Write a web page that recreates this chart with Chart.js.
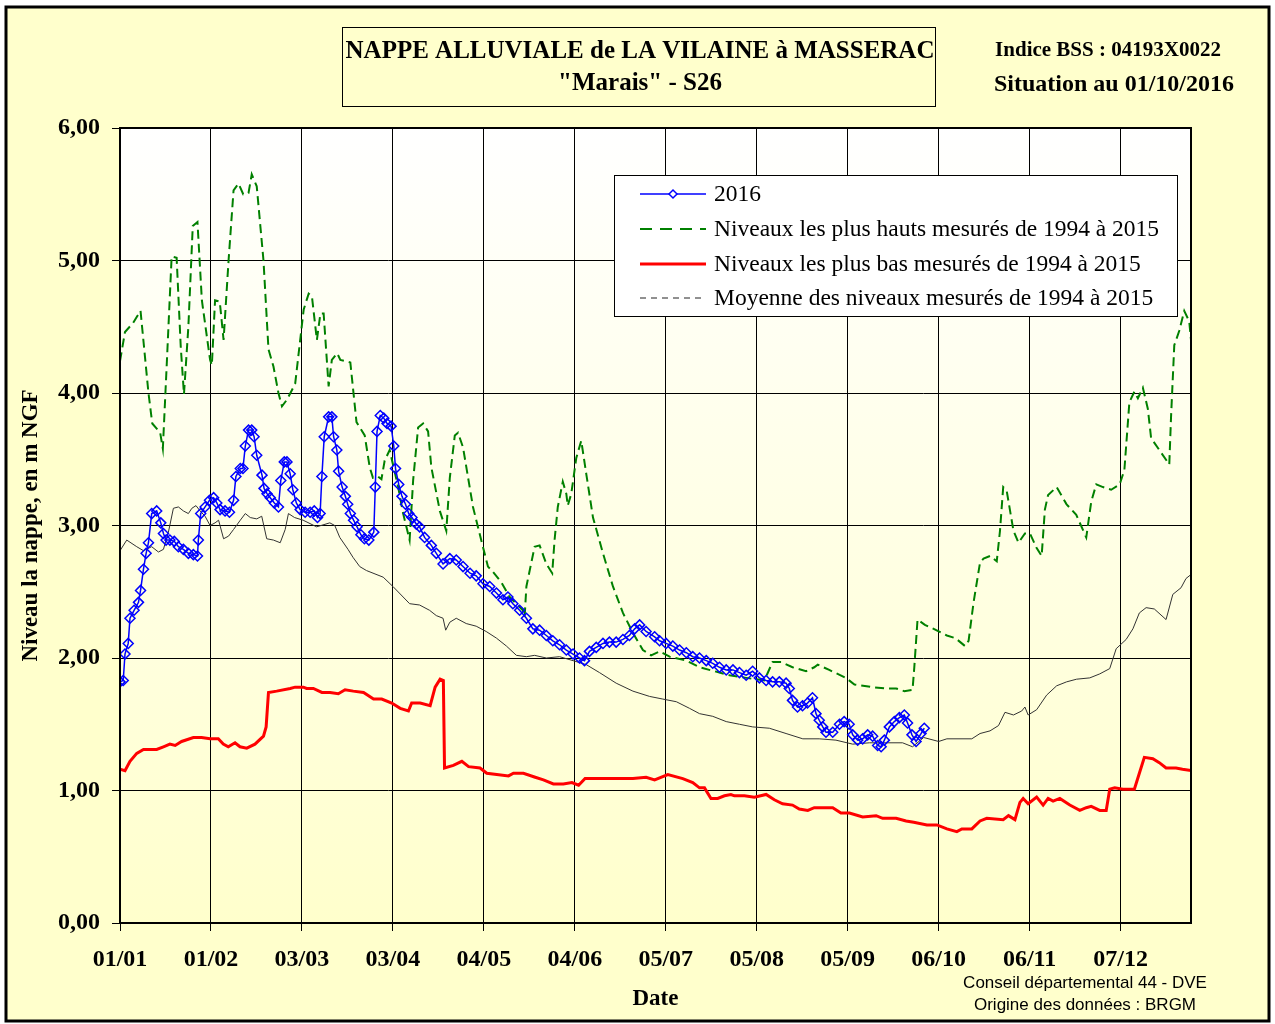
<!DOCTYPE html>
<html>
<head>
<meta charset="utf-8">
<script src="https://cdn.jsdelivr.net/npm/chart.js@4.4.1/dist/chart.umd.min.js"></script>
<style>
  html, body { margin: 0; padding: 0; background: #fff; }
  canvas { display: block; }
</style>
</head>
<body>
<canvas id="nappe-chart" width="1275" height="1024"></canvas>
<script>
// ==== Axe des dates : jour de l'annee (2016), un repere tous les 31 jours ====
var tickLabels = ['01/01', '01/02', '03/03', '03/04', '04/05', '04/06', '05/07', '05/08', '05/09', '06/10', '06/11', '07/12'];

// ==== 2016 ====
var days2016 = [0, 1.1, 1.7, 2.8, 3.4, 4.8, 6.3, 7, 8, 8.9, 9.7, 10.8, 12.5, 13.9, 14.8, 15.7, 17, 18.5, 19.9, 21.6, 23.3, 25, 26.4, 26.7, 27.5, 29, 30.5, 31.9, 33, 34.1, 35.8, 37.3, 38.7, 39.5, 41, 41.9, 42.7, 43.8, 44.9, 45.7, 46.6, 48.4, 49.1, 50.1, 51.2, 52.6, 54, 54.8, 56, 56.9, 58, 58.9, 60.1, 61.4, 63.1, 64.8, 66.2, 67.3, 68.2, 68.8, 69.6, 71.1, 72.2, 72.8, 73.9, 74.5, 75.7, 76.8, 77.6, 78.5, 79.6, 80.8, 82.1, 83.3, 84.8, 86.5, 87, 87.6, 88.7, 89.9, 91, 92.4, 93.3, 93.9, 95, 96.1, 97.3, 98.4, 99.5, 101, 102.1, 103.8, 106.1, 107.8, 110.1, 112.4, 114.6, 116.9, 119.3, 121.4, 123.7, 126, 128.3, 130.5, 132.2, 133.9, 136.2, 138.5, 140.7, 143, 145.3, 147.5, 149.8, 152.1, 154.4, 156.6, 158.3, 160, 162.3, 164.6, 166.8, 169.1, 171.4, 173.6, 175.4, 177.1, 179.3, 182.2, 183.9, 186.1, 188.4, 190.7, 193, 195.2, 197.5, 199.8, 202, 204.3, 206.6, 208.9, 211.1, 213.4, 215.6, 217.9, 220.2, 222.4, 224.7, 227, 228.1, 229.2, 230.9, 232.6, 234.3, 236, 237.2, 238.3, 239.5, 240.6, 242.9, 245.2, 246.8, 248.5, 249.7, 251.4, 253.1, 254.8, 256.5, 258.2, 259.4, 260.5, 262.2, 263.9, 265.6, 267.3, 268.4, 269.9, 271.3, 273, 274.1];
var levels2016 = [1.82, 1.83, 2.03, 2.11, 2.30, 2.36, 2.42, 2.51, 2.67, 2.79, 2.87, 3.09, 3.11, 3.02, 2.94, 2.89, 2.89, 2.88, 2.84, 2.82, 2.79, 2.78, 2.77, 2.89, 3.09, 3.14, 3.19, 3.21, 3.17, 3.12, 3.11, 3.10, 3.19, 3.37, 3.43, 3.43, 3.60, 3.72, 3.72, 3.67, 3.53, 3.38, 3.28, 3.24, 3.21, 3.17, 3.14, 3.34, 3.48, 3.48, 3.39, 3.27, 3.17, 3.12, 3.10, 3.10, 3.11, 3.06, 3.09, 3.37, 3.67, 3.82, 3.82, 3.67, 3.57, 3.41, 3.29, 3.22, 3.16, 3.09, 3.04, 2.99, 2.93, 2.90, 2.89, 2.95, 3.29, 3.71, 3.83, 3.81, 3.77, 3.75, 3.60, 3.43, 3.31, 3.22, 3.16, 3.09, 3.06, 3.01, 2.99, 2.91, 2.85, 2.79, 2.71, 2.75, 2.74, 2.69, 2.64, 2.62, 2.56, 2.54, 2.49, 2.44, 2.46, 2.41, 2.36, 2.30, 2.22, 2.21, 2.17, 2.13, 2.10, 2.06, 2.03, 2.00, 1.98, 2.05, 2.08, 2.11, 2.12, 2.12, 2.14, 2.17, 2.22, 2.25, 2.20, 2.16, 2.13, 2.11, 2.09, 2.06, 2.04, 2.01, 2.00, 1.98, 1.96, 1.93, 1.91, 1.91, 1.89, 1.87, 1.90, 1.85, 1.83, 1.82, 1.82, 1.81, 1.77, 1.68, 1.63, 1.64, 1.66, 1.70, 1.58, 1.53, 1.48, 1.44, 1.44, 1.50, 1.52, 1.50, 1.42, 1.38, 1.39, 1.42, 1.41, 1.34, 1.33, 1.38, 1.48, 1.52, 1.55, 1.57, 1.51, 1.42, 1.37, 1.43, 1.47];

// ==== Niveaux les plus hauts 1994-2015 ====
var daysHaut = [0, 1.7, 4.5, 7, 9.7, 11, 13.7, 14.6, 16, 17.6, 19.3, 20.7, 21.8, 23.3, 24.8, 26.4, 27.9, 30.7, 31.3, 32.4, 34, 35.3, 37, 38.7, 40.4, 42, 43.8, 44.9, 46.6, 48.9, 50.6, 52.3, 54, 55.2, 56.9, 59.7, 62.6, 64.3, 65.4, 67.1, 68.3, 69.4, 71.1, 72.2, 74, 75.1, 76.8, 78.5, 80.6, 83.4, 85.1, 86.2, 87.9, 89.1, 90.2, 91.9, 94.8, 96.5, 98.7, 99.9, 101.6, 103.3, 105, 106.1, 109, 111.2, 112.4, 114.1, 115.2, 116.9, 120.3, 123.1, 125.4, 127.1, 130, 132.8, 137.3, 137.9, 138.5, 141.3, 143, 145.3, 147.3, 148.1, 149.2, 150.9, 152.1, 152.6, 153.8, 155.5, 157.2, 158.9, 161.2, 164.6, 168, 171.4, 174.8, 178.2, 181, 183.9, 187.3, 193, 197.5, 202.6, 207.7, 213.4, 219.6, 222.4, 225.3, 229.2, 233.8, 236.6, 237.8, 241.7, 247.4, 250.3, 256.5, 261, 264.5, 267.3, 270.1, 270.7, 271.8, 274.3, 277.3, 281.8, 284.7, 288, 289.2, 290.9, 293.1, 294.3, 296.5, 298.8, 299.9, 301, 302.2, 304.5, 306.2, 308.4, 310.1, 312.4, 314.1, 315.2, 316.3, 319.2, 322.6, 325.9, 329.3, 331, 332.7, 335, 337.8, 340.7, 342.3, 344, 345.7, 346.9, 348.6, 350.3, 351.4, 354.2, 357.6, 358.2, 359.3, 361, 362.7, 364.4, 365];
var levelsHaut = [4.24, 4.46, 4.53, 4.62, 4.00, 3.77, 3.70, 3.58, 4.25, 5.03, 5.02, 4.35, 3.99, 4.50, 5.26, 5.29, 4.70, 4.25, 4.21, 4.70, 4.69, 4.40, 5.00, 5.53, 5.58, 5.50, 5.51, 5.65, 5.56, 5.00, 4.33, 4.20, 4.00, 3.90, 3.95, 4.07, 4.63, 4.75, 4.73, 4.40, 4.60, 4.60, 4.05, 4.25, 4.30, 4.25, 4.24, 4.23, 3.78, 3.68, 3.44, 3.36, 3.37, 3.35, 3.49, 3.57, 3.29, 3.09, 2.89, 3.34, 3.74, 3.77, 3.71, 3.44, 3.11, 2.96, 3.36, 3.68, 3.70, 3.59, 3.14, 2.89, 2.69, 2.65, 2.57, 2.46, 2.36, 2.31, 2.54, 2.84, 2.85, 2.71, 2.64, 2.89, 3.14, 3.33, 3.24, 3.15, 3.24, 3.51, 3.64, 3.39, 3.06, 2.79, 2.54, 2.34, 2.19, 2.06, 2.02, 2.05, 2.01, 1.98, 1.93, 1.90, 1.87, 1.85, 1.83, 1.97, 1.97, 1.93, 1.90, 1.93, 1.95, 1.91, 1.85, 1.80, 1.78, 1.77, 1.77, 1.75, 1.76, 1.93, 2.29, 2.25, 2.22, 2.17, 2.15, 2.09, 2.13, 2.42, 2.72, 2.75, 2.77, 2.73, 2.96, 3.29, 3.26, 2.96, 2.87, 2.94, 2.94, 2.83, 2.77, 3.12, 3.23, 3.29, 3.16, 3.08, 2.91, 3.18, 3.31, 3.29, 3.27, 3.31, 3.42, 3.93, 4.01, 3.96, 4.04, 3.88, 3.66, 3.57, 3.46, 3.82, 4.36, 4.47, 4.62, 4.54, 4.40];

// ==== Niveaux les plus bas 1994-2015 ====
var daysBas = [0, 1.7, 3.4, 5.7, 8, 12.5, 14.8, 17, 18.8, 21, 25, 27.8, 30.7, 33.5, 35.2, 36.9, 39.2, 40.9, 43.2, 46, 48.9, 49.8, 50.6, 53.4, 58, 59.7, 62.5, 63.6, 65.9, 68.8, 71.6, 74.4, 76.7, 79.5, 83, 86.4, 89.2, 92.6, 95.5, 98.3, 99.4, 102.3, 105.7, 107.4, 109.1, 110.2, 110.6, 113.6, 116.5, 118.8, 122.7, 125, 128.4, 132.4, 134.1, 137.5, 141.5, 144.3, 147.7, 151.1, 154, 156.3, 158.5, 165.7, 174.8, 179.3, 182.2, 186.7, 191.8, 195.2, 197.5, 199.2, 201.4, 203.7, 206, 208.2, 209.4, 212.8, 216.2, 220.2, 223, 225.8, 229.2, 231.5, 234.4, 236.6, 242.9, 245.7, 248.6, 253.1, 257.7, 259.9, 264.5, 267.9, 270.5, 275, 278.4, 281.8, 285.2, 286.9, 290.3, 293.1, 295.4, 301, 302.8, 305, 306.7, 307.8, 309.5, 312.4, 314.6, 316.3, 318, 320.3, 323.7, 327.1, 329.3, 331, 333.9, 336.1, 337.3, 339, 341.8, 345.7, 347.4, 349.1, 352, 354.2, 356.5, 359.9, 362.1, 365];
var levelsBas = [1.16, 1.15, 1.22, 1.28, 1.31, 1.31, 1.33, 1.35, 1.34, 1.37, 1.40, 1.40, 1.39, 1.39, 1.35, 1.33, 1.36, 1.33, 1.32, 1.35, 1.41, 1.48, 1.74, 1.75, 1.77, 1.78, 1.78, 1.77, 1.77, 1.74, 1.74, 1.73, 1.76, 1.75, 1.74, 1.69, 1.69, 1.66, 1.62, 1.60, 1.66, 1.66, 1.64, 1.78, 1.84, 1.83, 1.17, 1.19, 1.22, 1.18, 1.17, 1.13, 1.12, 1.11, 1.13, 1.13, 1.10, 1.08, 1.05, 1.05, 1.06, 1.04, 1.09, 1.09, 1.09, 1.10, 1.08, 1.12, 1.09, 1.06, 1.02, 1.02, 0.94, 0.94, 0.96, 0.97, 0.96, 0.96, 0.95, 0.97, 0.93, 0.90, 0.89, 0.86, 0.85, 0.87, 0.87, 0.83, 0.83, 0.80, 0.81, 0.79, 0.79, 0.77, 0.76, 0.74, 0.74, 0.71, 0.69, 0.71, 0.71, 0.77, 0.79, 0.78, 0.81, 0.78, 0.91, 0.94, 0.90, 0.95, 0.89, 0.94, 0.92, 0.94, 0.89, 0.85, 0.87, 0.88, 0.85, 0.85, 1.01, 1.02, 1.01, 1.01, 1.13, 1.25, 1.24, 1.21, 1.17, 1.17, 1.16, 1.15];

// ==== Moyenne 1994-2015 ====
var daysMoy = [0, 2.3, 5.7, 8, 10.8, 13.1, 14.8, 16.5, 18.2, 19.9, 21.6, 23.3, 24.5, 25.9, 27.3, 29, 30.7, 32.4, 33.6, 35.3, 37, 38.7, 41, 42.7, 44.4, 46.6, 48.3, 50, 52.3, 54.6, 56.3, 57.4, 59.5, 62.4, 67, 71.5, 73.2, 74.9, 77.7, 79.4, 81.7, 84, 89.7, 93, 98.7, 102.1, 105.5, 107.8, 110.1, 111, 112.4, 114.6, 118, 121.4, 124.8, 128.3, 131.7, 135.1, 138.5, 141.3, 145.3, 149.8, 154.4, 158.9, 163.4, 169.1, 174.8, 180.5, 185, 189.6, 194.1, 197.5, 202, 206.6, 211.1, 215.6, 221.3, 227, 232.7, 238.3, 244, 249.7, 255.4, 261, 266.7, 270.1, 273.9, 279, 281.8, 290.3, 293.1, 296.5, 299.4, 301.6, 304.5, 307.3, 308.4, 309.5, 312.4, 315.8, 319.2, 322.6, 326, 330.5, 333.9, 337.3, 339.5, 342.9, 345.2, 347.4, 349.7, 352.5, 356.5, 358.8, 361.6, 363.3, 365];
var levelsMoy = [2.81, 2.89, 2.84, 2.81, 2.84, 2.80, 2.82, 2.95, 3.13, 3.14, 3.11, 3.09, 3.13, 3.15, 3.11, 3.07, 3.00, 3.02, 3.04, 2.90, 2.92, 2.97, 3.04, 3.09, 3.06, 3.05, 3.07, 2.90, 2.89, 2.87, 2.97, 3.09, 3.06, 3.04, 2.99, 3.02, 3.00, 2.91, 2.82, 2.76, 2.69, 2.66, 2.61, 2.54, 2.41, 2.40, 2.36, 2.32, 2.30, 2.21, 2.27, 2.30, 2.26, 2.24, 2.20, 2.15, 2.09, 2.02, 2.01, 2.02, 2.00, 2.01, 1.98, 1.95, 1.89, 1.81, 1.75, 1.71, 1.69, 1.67, 1.62, 1.58, 1.56, 1.52, 1.50, 1.48, 1.47, 1.43, 1.39, 1.39, 1.38, 1.35, 1.36, 1.36, 1.36, 1.33, 1.40, 1.37, 1.39, 1.39, 1.43, 1.45, 1.49, 1.59, 1.57, 1.60, 1.63, 1.57, 1.61, 1.72, 1.79, 1.82, 1.84, 1.85, 1.88, 1.92, 2.07, 2.14, 2.22, 2.34, 2.38, 2.37, 2.29, 2.48, 2.53, 2.60, 2.63];

function toPoints(days, levels) {
    return days.map(function (d, i) { return { x: d, y: levels[i] }; });
}

var serif = "'Liberation Serif', 'Times New Roman', serif";
var sans = "'Liberation Sans', Arial, sans-serif";

// ==== decor : fond, cadre, titres, legende, mentions ====
var decorPlugin = {
    id: 'decor',
    beforeDraw: function (chart) {
        var ctx = chart.ctx, a = chart.chartArea;
        ctx.save();
        ctx.fillStyle = '#ffffff';
        ctx.fillRect(0, 0, chart.width, chart.height);
        ctx.fillStyle = '#ffffcc';
        ctx.fillRect(6, 7, 1263, 1014);
        var grad = ctx.createLinearGradient(0, a.top, 0, a.bottom);
        grad.addColorStop(0, '#ffffff');
        grad.addColorStop(1, '#ffffcc');
        ctx.fillStyle = grad;
        ctx.fillRect(a.left, a.top, a.right - a.left, a.bottom - a.top);
        ctx.restore();
    },
    afterDatasetsDraw: function (chart) {
        var ctx = chart.ctx, a = chart.chartArea;
        ctx.save();
        ctx.strokeStyle = '#000';
        ctx.lineWidth = 2;
        ctx.strokeRect(a.left, a.top, a.right - a.left, a.bottom - a.top);
        ctx.restore();
    },
    afterDraw: function (chart) {
        var ctx = chart.ctx;
        ctx.save();
        // cadre general
        ctx.strokeStyle = '#000';
        ctx.lineWidth = 3;
        ctx.strokeRect(6, 7, 1263, 1014);

        // titre
        ctx.fillStyle = '#ffffcc';
        ctx.fillRect(342.5, 27.5, 593, 79);
        ctx.lineWidth = 1;
        ctx.strokeRect(342.5, 27.5, 593, 79);
        ctx.fillStyle = '#000';
        ctx.textAlign = 'center';
        ctx.textBaseline = 'middle';
        ctx.font = 'bold 25px ' + serif;
        ctx.fillText('NAPPE ALLUVIALE de LA VILAINE \u00e0 MASSERAC', 640, 52);
        ctx.fillText('"Marais" - S26', 640, 84);
        ctx.font = 'bold 21px ' + serif;
        ctx.fillText('Indice BSS : 04193X0022', 1108, 51);
        ctx.font = 'bold 24px ' + serif;
        ctx.fillText('Situation au 01/10/2016', 1114, 85);

        // mentions
        ctx.font = '17px ' + sans;
        ctx.fillText('Conseil d\u00e9partemental 44 - DVE', 1085, 983);
        ctx.fillText('Origine des donn\u00e9es : BRGM', 1085, 1005);

        // legende
        ctx.fillStyle = '#ffffff';
        ctx.fillRect(614.5, 175.5, 563, 141);
        ctx.strokeStyle = '#000';
        ctx.lineWidth = 1;
        ctx.strokeRect(614.5, 175.5, 563, 141);
        ctx.textAlign = 'left';
        ctx.font = '23.5px ' + serif;
        var rows = [194, 229, 264, 298];
        chart.data.datasets.forEach(function (ds, i) {
            var y = rows[i];
            ctx.strokeStyle = ds.legendColor || ds.borderColor;
            ctx.lineWidth = ds.borderWidth;
            ctx.setLineDash(ds.legendDash || []);
            ctx.beginPath();
            ctx.moveTo(640, y);
            ctx.lineTo(706, y);
            ctx.stroke();
            ctx.setLineDash([]);
            if (ds.pointRadius > 0) {
                ctx.lineWidth = ds.pointBorderWidth;
                ctx.beginPath();
                ctx.moveTo(673 - 4, y);
                ctx.lineTo(673, y - 4);
                ctx.lineTo(673 + 4, y);
                ctx.lineTo(673, y + 4);
                ctx.closePath();
                ctx.fillStyle = '#ffffff';
                ctx.fill();
                ctx.stroke();
            }
            ctx.fillStyle = '#000';
            ctx.fillText(ds.label, 714, y + 1);
        });
        ctx.restore();
    }
};

var ctxNappe = document.getElementById('nappe-chart').getContext('2d');

var nappeChart = new Chart(ctxNappe, {
    type: 'line',
    data: {
        datasets: [{
            label: '2016',
            data: toPoints(days2016, levels2016),
            borderColor: '#0000ff',
            borderWidth: 1.5,
            pointStyle: 'rectRot',
            pointRadius: 5,
            pointBorderWidth: 1.5,
            pointBorderColor: '#0000ff',
            pointBackgroundColor: 'rgba(0,0,0,0)',
            tension: 0
        }, {
            label: 'Niveaux les plus hauts mesur\u00e9s de 1994 \u00e0 2015',
            data: toPoints(daysHaut, levelsHaut),
            borderColor: '#008000',
            borderWidth: 2,
            borderDash: [9, 5],
            legendDash: [12, 8],
            pointRadius: 0,
            tension: 0
        }, {
            label: 'Niveaux les plus bas mesur\u00e9s de 1994 \u00e0 2015',
            data: toPoints(daysBas, levelsBas),
            borderColor: '#ff0000',
            borderWidth: 3,
            pointRadius: 0,
            tension: 0
        }, {
            label: 'Moyenne des niveaux mesur\u00e9s de 1994 \u00e0 2015',
            data: toPoints(daysMoy, levelsMoy),
            borderColor: '#333333',
            legendColor: '#222222',
            borderWidth: 1,
            legendDash: [6, 5],
            pointRadius: 0,
            tension: 0
        }]
    },
    options: {
        responsive: false,
        animation: false,
        devicePixelRatio: 1,
        layout: { padding: { left: 0, top: 128, right: 84, bottom: 0 } },
        plugins: {
            legend: { display: false },
            tooltip: { enabled: false }
        },
        scales: {
            x: {
                type: 'linear',
                min: 0,
                max: 365,
                afterBuildTicks: function (scale) {
                    scale.ticks = tickLabels.map(function (t, i) { return { value: i * 31 }; });
                },
                afterFit: function (scale) { scale.height = 101; },
                ticks: {
                    autoSkip: false,
                    maxRotation: 0,
                    padding: 14,
                    color: '#000',
                    font: { family: serif, size: 24, weight: 'bold' },
                    callback: function (v) { return tickLabels[Math.round(v / 31)]; }
                },
                grid: { color: '#000', lineWidth: 1, tickLength: 8, tickColor: '#000' },
                border: { display: true, color: '#000', width: 2 },
                title: {
                    display: true,
                    text: 'Date',
                    color: '#000',
                    font: { family: serif, size: 23, weight: 'bold' },
                    padding: { top: 0, bottom: 11 }
                }
            },
            y: {
                min: 0,
                max: 6,
                afterFit: function (scale) { scale.width = 120; },
                ticks: {
                    stepSize: 1,
                    padding: 12,
                    color: '#000',
                    font: { family: serif, size: 24, weight: 'bold' },
                    callback: function (v) { return v.toFixed(2).replace('.', ','); }
                },
                grid: { color: '#000', lineWidth: 1, tickLength: 8, tickColor: '#000' },
                border: { display: true, color: '#000', width: 2 },
                title: {
                    display: true,
                    text: 'Niveau la nappe, en m NGF',
                    color: '#000',
                    font: { family: serif, size: 23, weight: 'bold' },
                    padding: { top: 17, bottom: 0 }
                }
            }
        }
    },
    plugins: [decorPlugin]
});
</script>
</body>
</html>
